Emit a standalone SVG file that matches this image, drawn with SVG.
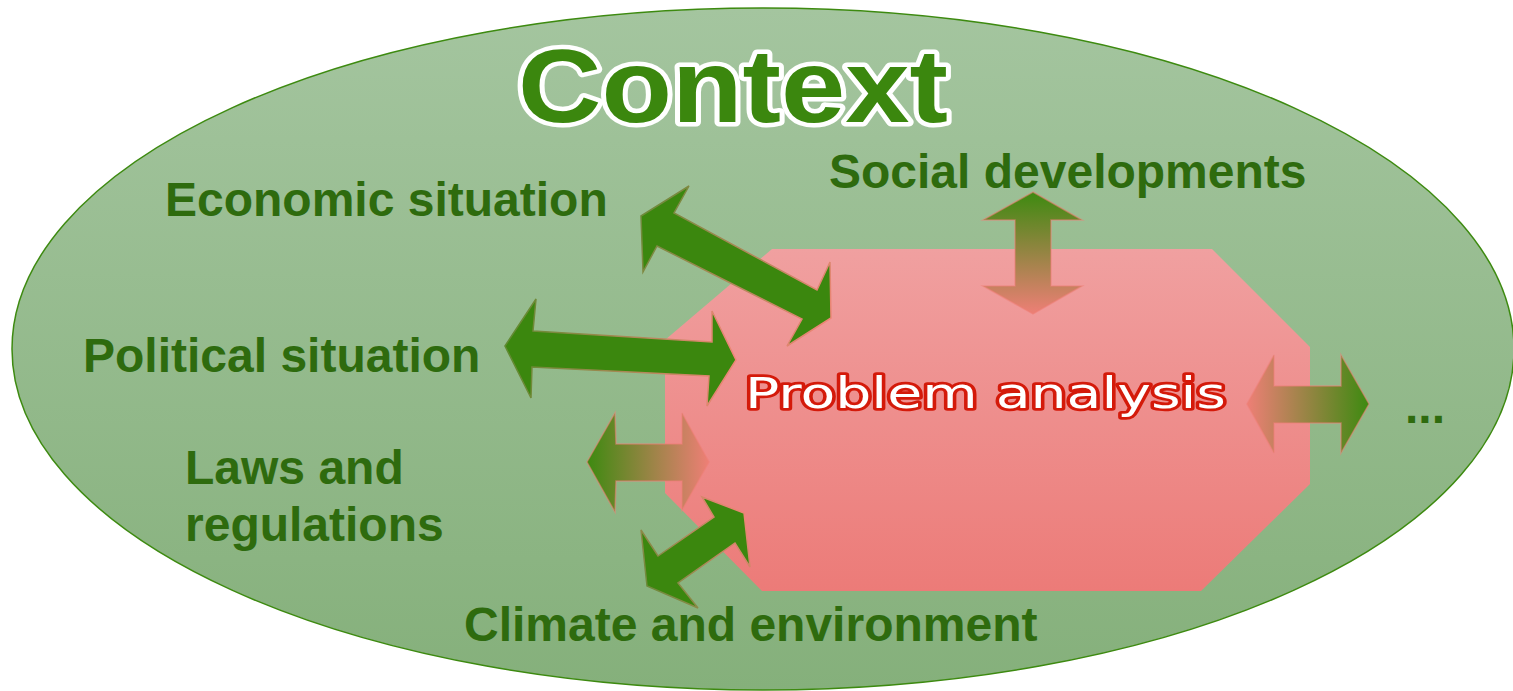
<svg xmlns="http://www.w3.org/2000/svg" width="1513" height="691" viewBox="0 0 1513 691">
<defs>
<linearGradient id="ellG" x1="0" y1="0" x2="0" y2="1">
<stop offset="0" stop-color="#a4c59f"/>
<stop offset="1" stop-color="#85b07b"/>
</linearGradient>
<linearGradient id="octG" x1="0" y1="0" x2="0" y2="1">
<stop offset="0" stop-color="#f0a0a0"/>
<stop offset="1" stop-color="#ec7b78"/>
</linearGradient>
<linearGradient id="ecoS" gradientUnits="userSpaceOnUse" x1="641" y1="216" x2="831" y2="318">
<stop offset="0" stop-color="#6e8a3a"/>
<stop offset="1" stop-color="#ee8576"/>
</linearGradient>
<linearGradient id="polS" gradientUnits="userSpaceOnUse" x1="505" y1="346" x2="736" y2="360">
<stop offset="0" stop-color="#5f8a30"/>
<stop offset="1" stop-color="#ee8576"/>
</linearGradient>
<linearGradient id="cliS" gradientUnits="userSpaceOnUse" x1="647" y1="586" x2="744" y2="513">
<stop offset="0" stop-color="#6e8a3a"/>
<stop offset="1" stop-color="#ee8576"/>
</linearGradient>
<linearGradient id="lawF" gradientUnits="userSpaceOnUse" x1="587" y1="0" x2="709" y2="0">
<stop offset="0" stop-color="#3d8a10"/>
<stop offset="1" stop-color="#ee7f76"/>
</linearGradient>
<linearGradient id="socF" gradientUnits="userSpaceOnUse" x1="0" y1="192" x2="0" y2="314">
<stop offset="0" stop-color="#3d8a10"/>
<stop offset="1" stop-color="#ee7f76"/>
</linearGradient>
<linearGradient id="rgtF" gradientUnits="userSpaceOnUse" x1="1247" y1="0" x2="1369" y2="0">
<stop offset="0" stop-color="#ee7f76"/>
<stop offset="1" stop-color="#3d8a10"/>
</linearGradient>
</defs>
<style>
.lbl{font-family:"Liberation Sans",Arial,sans-serif;font-weight:bold;font-size:48px;fill:#2e6b0e;}
.dark{fill:#3b870e;stroke-width:1.5;stroke-linejoin:miter;}
.grad{stroke-width:1.5;stroke-opacity:0.55;stroke-linejoin:miter;}
</style>
<g id="context">
<ellipse cx="763" cy="349" rx="751" ry="341" fill="url(#ellG)" stroke="#3d8a10" stroke-width="1.5"/>
<text x="518" y="122" textLength="430" lengthAdjust="spacingAndGlyphs" font-family="Liberation Sans, Arial, sans-serif" font-weight="bold" font-size="103" fill="#3b870e" stroke="#ffffff" stroke-width="9" stroke-linejoin="round" paint-order="stroke">Context</text>
</g>
<g id="problem-analysis">
<polygon points="772,249 1212,249 1310,347 1310,484 1201,591 762,591 665,493 665,340" fill="url(#octG)"/>
<text x="745" y="408" textLength="481" lengthAdjust="spacingAndGlyphs" font-family="DejaVu Sans, Verdana, sans-serif" font-size="43" fill="#ffffff" stroke="#d41a0a" stroke-width="5.5" stroke-linejoin="round" paint-order="stroke">Problem analysis</text>
</g>
<g id="connectors">
<polygon class="dark" stroke="url(#ecoS)" points="641,216 689,186 674,213 817,290 830,262 831,318 787,346 802,319 657,246 643,272"/>
<polygon class="dark" stroke="url(#polS)" points="505,346 536,299 533,331 712,342 712,311 736,360 707,406 709,376 532,367 531,398"/>
<polygon class="dark" stroke="url(#cliS)" points="647,586 641,530 658,556 714,517 702,497 744,513 750,567 735,543 678,583 698,608"/>
<polygon class="grad" fill="url(#lawF)" stroke="#ee7f76" points="587,462 615,413 616,444 682,444 682,413 709,462 682,510 682,481 616,481 615,512"/>
<polygon class="grad" fill="url(#socF)" stroke="#ee7f76" points="1033,192 1082,220 1051,220 1051,286 1082,286 1033,314 983,286 1015,286 1015,220 983,220"/>
<polygon class="grad" fill="url(#rgtF)" stroke="#ee7f76" points="1247,404 1274,355 1274,386 1341,386 1341,355 1369,404 1341,453 1341,423 1274,423 1274,453"/>
</g>
<g id="economic-situation"><text class="lbl" x="165" y="216">Economic situation</text></g>
<g id="social-developments"><text class="lbl" x="829" y="188">Social developments</text></g>
<g id="political-situation"><text class="lbl" x="83" y="372">Political situation</text></g>
<g id="laws-and-regulations"><text class="lbl" x="185" y="484">Laws and</text><text class="lbl" x="185" y="541">regulations</text></g>
<g id="climate-and-environment"><text class="lbl" x="464" y="641">Climate and environment</text></g>
<g id="more"><text class="lbl" x="1405" y="423">...</text></g>
</svg>
